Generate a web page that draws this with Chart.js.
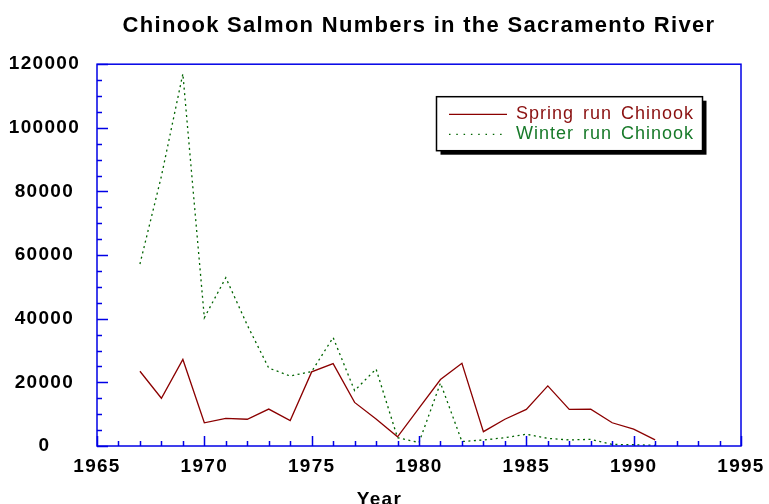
<!DOCTYPE html>
<html>
<head>
<meta charset="utf-8">
<script src="https://cdn.jsdelivr.net/npm/chart.js@4.4.1/dist/chart.umd.min.js"></script>
<style>
html,body{margin:0;padding:0;background:#fff;}
canvas{display:block;}
</style>
</head>
<body>
<canvas id="c" width="769" height="504"></canvas>
<script>
// ---- data ----
const titleText = 'Chinook Salmon Numbers in the Sacramento River';
const xAxisTitle = 'Year';
const years = [1967,1968,1969,1970,1971,1972,1973,1974,1975,1976,1977,1978,1979,
               1980,1981,1982,1983,1984,1985,1986,1987,1988,1989,1990,1991];
const springRun = [23500,15000,27200,7300,8700,8400,11600,8000,23300,25900,13700,8500,2900,
                   11900,20900,26000,4500,8400,11500,18900,11500,11600,7300,5300,1900];
const winterRun = [57200,84800,117000,40300,52900,38000,24500,22000,23400,34100,17400,24200,2600,
                   1100,19800,1400,1900,2600,3700,2400,1900,2100,500,400,200];
const seriesLabels = ['Spring run Chinook','Winter run Chinook'];
const xTickLabels = ['1965','1970','1975','1980','1985','1990','1995'];
const yTickLabels = ['0','20000','40000','60000','80000','100000','120000'];

// ---- styles ----
const BLUE = '#0000e6';
const FONT = '"Liberation Sans", Arial, Helvetica, sans-serif';
const LS = '1.3px';
const legendTextColors = ['#8a1010', '#187a2a'];

const overlay = {
  id: 'overlay',
  beforeUpdate(chart) { chart.ctx.letterSpacing = LS; },
  beforeDraw(chart) { chart.ctx.letterSpacing = LS; },
  afterDatasetsDraw(chart) {
    const {ctx, chartArea: a, scales: {x, y}} = chart;
    ctx.save();
    // tick marks (inward)
    ctx.strokeStyle = BLUE;
    ctx.lineWidth = 1.5;
    ctx.beginPath();
    for (let v = x.min; v <= x.max; v += 1) {
      const px = Math.round(x.getPixelForValue(v)) + 0.5;
      const len = (v % 5 === 0) ? 10 : 5;
      ctx.moveTo(px, a.bottom); ctx.lineTo(px, a.bottom - len);
    }
    for (let v = y.min; v <= y.max; v += 5000) {
      const py = Math.round(y.getPixelForValue(v)) + 0.5;
      const len = (v % 20000 === 0) ? 11 : 5;
      ctx.moveTo(a.left, py); ctx.lineTo(a.left + len, py);
    }
    ctx.stroke();
    // frame
    ctx.strokeRect(a.left, a.top, a.right - a.left, a.bottom - a.top);

    // legend box with shadow
    const lx = a.right - 304.5, ly = a.top + 32.5, lw = 266, lh = 54;
    ctx.fillStyle = '#000';
    ctx.fillRect(lx + 4, ly + 4, lw, lh);
    ctx.fillStyle = '#fff';
    ctx.fillRect(lx, ly, lw, lh);
    ctx.strokeStyle = '#000';
    ctx.lineWidth = 1.5;
    ctx.strokeRect(lx, ly, lw, lh);
    ctx.letterSpacing = '1px';
    ctx.wordSpacing = '3px';
    chart.data.datasets.forEach((ds, i) => {
      const yy = ly + 17.6 + i * 20;
      ctx.strokeStyle = ds.borderColor;
      ctx.lineWidth = ds.borderWidth;
      ctx.setLineDash(i === 1 ? [1.5, 5.8] : []);
      ctx.beginPath();
      ctx.moveTo(lx + 12.5, yy); ctx.lineTo(lx + 70.5, yy);
      ctx.stroke();
      ctx.setLineDash([]);
      ctx.fillStyle = legendTextColors[i];
      ctx.font = '18px ' + FONT;
      ctx.textAlign = 'left';
      ctx.textBaseline = 'alphabetic';
      ctx.fillText(ds.label, lx + 79.5, ly + 22.6 + i * 20);
    });
    ctx.wordSpacing = '0px';

    // x axis title
    ctx.letterSpacing = LS;
    ctx.fillStyle = '#000';
    ctx.font = 'bold 19px ' + FONT;
    ctx.textAlign = 'center';
    ctx.textBaseline = 'alphabetic';
    ctx.fillText(xAxisTitle, chart.width / 2 - 5, chart.height + 1);
    ctx.restore();
  }
};

Chart.defaults.color = '#000';

new Chart(document.getElementById('c'), {
  type: 'line',
  data: {
    labels: years,
    datasets: [
      {
        label: seriesLabels[0],
        data: years.map((yr, i) => ({x: yr, y: springRun[i]})),
        borderColor: '#8b0000',
        borderWidth: 1.3,
        pointRadius: 0,
        tension: 0,
        fill: false
      },
      {
        label: seriesLabels[1],
        data: years.map((yr, i) => ({x: yr, y: winterRun[i]})),
        borderColor: '#006400',
        borderWidth: 1.3,
        borderDash: [2, 3.5],
        pointRadius: 0,
        tension: 0,
        fill: false
      }
    ]
  },
  options: {
    responsive: false,
    animation: false,
    devicePixelRatio: 1,
    layout: {padding: {left: 0, right: 28, top: 0, bottom: 0}},
    plugins: {
      legend: {display: false},
      tooltip: {enabled: false},
      title: {
        display: true,
        text: titleText,
        fullSize: false,
        color: '#000',
        font: {family: FONT, size: 22, weight: 'bold', lineHeight: 1.2},
        padding: {top: 12.5, bottom: 25.3}
      }
    },
    scales: {
      x: {
        type: 'linear',
        min: 1965,
        max: 1995,
        grid: {display: false, drawTicks: false},
        border: {display: false},
        ticks: {
          stepSize: 5,
          autoSkip: false,
          maxRotation: 0,
          padding: 9,
          color: '#000',
          font: {family: FONT, size: 19, weight: 'bold'},
          callback: (v) => xTickLabels[xTickLabels.indexOf(String(v))] ?? ''
        },
        afterFit(s) { s.height = 58; s.paddingLeft = 0; s.paddingRight = 0; }
      },
      y: {
        min: 0,
        max: 120000,
        grid: {display: false, drawTicks: false},
        border: {display: false},
        ticks: {
          stepSize: 20000,
          crossAlign: 'center',
          padding: 17,
          color: '#000',
          font: {family: FONT, size: 19, weight: 'bold'},
          callback: (v) => yTickLabels[yTickLabels.indexOf(String(v))] ?? ''
        },
        afterFit(s) { s.width = 97; s.paddingTop = 0; s.paddingBottom = 0; }
      }
    }
  },
  plugins: [overlay]
});
</script>
</body>
</html>
